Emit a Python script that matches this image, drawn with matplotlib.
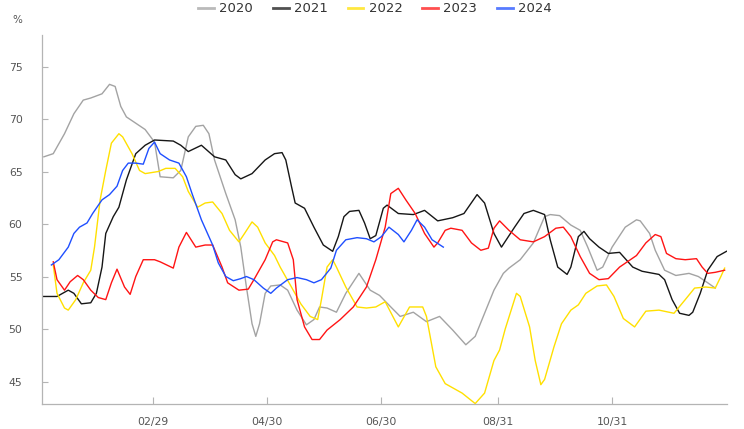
import matplotlib
matplotlib.use("Agg")
import matplotlib.pyplot as plt
import matplotlib.dates as mdates
import pandas as pd

# ---- data (day index: 0 = Jan 1, plotted on a common 2024 calendar) ----
days_2020 = [1, 6, 12, 17, 22, 26, 32, 36, 39, 42, 45, 50, 55, 60, 63, 70, 74, 78, 82, 86, 89, 92, 98, 103, 106,
             109, 112, 114, 116, 119, 122, 127, 131, 136, 141, 145, 148, 152, 157, 162, 169, 175, 180, 186, 191,
             198, 205, 212, 219, 226, 231, 236, 241, 246, 249, 255, 262, 268, 271, 276, 282, 287, 291, 296, 299,
             304, 311, 317, 319, 324, 327, 332, 338, 345, 350, 355, 359]
vals_2020 = [66.4, 66.7, 68.6, 70.5, 71.8, 72.0, 72.4, 73.3, 73.1, 71.2, 70.2, 69.6, 69.0, 67.8, 64.5, 64.4, 65.1,
             68.3, 69.3, 69.4, 68.6, 66.1, 62.9, 60.4, 57.8, 54.0, 50.5, 49.3, 50.5, 53.4, 54.1, 54.2, 53.7, 51.8,
             50.4, 50.9, 52.1, 52.0, 51.6, 53.4, 55.3, 53.7, 53.2, 52.1, 51.2, 51.6, 50.7, 51.2, 49.9, 48.5, 49.3,
             51.5, 53.7, 55.3, 55.8, 56.6, 58.2, 60.7, 60.9, 60.8, 59.9, 59.4, 57.8, 55.6, 55.9, 57.8, 59.7, 60.4,
             60.3, 59.1, 57.5, 55.6, 55.1, 55.3, 55.0, 54.4, 53.9]

days_2021 = [0, 8, 14, 17, 21, 26, 29, 32, 34, 38, 41, 45, 50, 55, 60, 70, 74, 78, 85, 92, 98, 103, 106, 112, 119,
             124, 128, 130, 133, 135, 140, 145, 150, 155, 158, 161, 164, 169, 172, 175, 178, 182, 184, 190, 198,
             204, 211, 219, 225, 232, 236, 241, 245, 252, 257, 262, 268, 271, 275, 280, 282, 286, 289, 292, 297,
             302, 308, 315, 320, 329, 332, 336, 340, 345, 347, 351, 355, 360, 365]
vals_2021 = [53.1, 53.1, 53.7, 53.4, 52.4, 52.5, 53.4, 55.9, 59.1, 60.7, 61.6, 64.2, 66.7, 67.5, 68.0, 67.9, 67.5,
             66.9, 67.5, 66.4, 66.1, 64.7, 64.3, 64.8, 66.1, 66.7, 66.8, 66.1, 63.6, 62.0, 61.5, 59.7, 58.0, 57.4,
             58.8, 60.7, 61.2, 61.3, 60.1, 58.6, 58.9, 61.5, 61.8, 61.0, 60.9, 61.3, 60.3, 60.6, 61.0, 62.8, 62.0,
             59.1, 57.8, 59.7, 61.0, 61.3, 60.9, 58.5, 55.9, 55.2, 55.9, 58.8, 59.3, 58.6, 57.8, 57.2, 57.3, 55.9,
             55.5, 55.2, 54.7, 52.8, 51.5, 51.3, 51.6, 53.4, 55.6, 56.9, 57.4]

days_2022 = [6, 8, 12, 14, 18, 22, 26, 28, 31, 34, 37, 41, 43, 48, 52, 55, 62, 66, 71, 75, 78, 83, 87, 91, 96, 100,
             105, 108, 112, 115, 119, 124, 127, 133, 138, 143, 147, 149, 152, 155, 157, 162, 168, 173, 178, 183,
             190, 196, 203, 205, 210, 215, 224, 231, 236, 241, 244, 247, 253, 255, 260, 263, 266, 268, 273, 277,
             282, 286, 290, 296, 301, 305, 310, 316, 322, 329, 337, 343, 348, 354, 359, 362, 364]
vals_2022 = [56.1, 53.4, 52.0, 51.8, 52.8, 54.4, 55.6, 57.8, 62.3, 65.1, 67.7, 68.6, 68.3, 66.7, 65.1, 64.8, 65.0,
             65.3, 65.3, 64.5, 63.1, 61.6, 62.0, 62.1, 61.0, 59.4, 58.3, 59.1, 60.2, 59.7, 58.2, 57.0, 55.9, 54.0,
             52.4, 51.2, 50.9, 52.8, 55.9, 56.6, 55.9, 54.0, 52.1, 52.0, 52.1, 52.6, 50.2, 52.1, 52.1, 51.2, 46.4,
             44.8, 43.9, 42.9, 43.9, 47.0, 48.0, 50.0, 53.4, 53.1, 50.2, 47.0, 44.7, 45.2, 48.3, 50.5, 51.8, 52.3,
             53.4, 54.1, 54.2, 53.1, 51.0, 50.2, 51.7, 51.8, 51.5, 52.8, 53.9, 54.0, 53.9, 55.0, 55.8]

days_2023 = [6, 8, 12, 15, 19, 22, 26, 30, 34, 37, 40, 44, 47, 50, 54, 60, 63, 70, 73, 77, 82, 87, 91, 96, 99, 105,
             110, 113, 119, 123, 125, 131, 134, 136, 140, 144, 148, 152, 159, 166, 173, 178, 183, 186, 190, 194,
             199, 204, 209, 211, 215, 218, 224, 229, 234, 238, 241, 244, 249, 255, 262, 268, 274, 278, 282, 287,
             292, 297, 302, 308, 317, 322, 327, 330, 333, 338, 343, 349, 352, 355, 359, 364]
vals_2023 = [56.4, 54.7, 53.7, 54.5, 55.1, 54.7, 53.7, 53.0, 52.8, 54.4, 55.7, 54.0, 53.3, 55.0, 56.6, 56.6, 56.4,
             55.8, 57.8, 59.2, 57.8, 58.0, 58.0, 55.9, 54.4, 53.7, 53.8, 54.7, 56.6, 58.3, 58.5, 58.2, 56.6, 52.8,
             50.2, 49.0, 49.0, 49.9, 50.9, 52.1, 54.0, 56.6, 59.7, 62.9, 63.4, 62.3, 61.0, 59.1, 57.8, 58.2, 59.4,
             59.6, 59.4, 58.2, 57.5, 57.7, 59.6, 60.3, 59.4, 58.5, 58.3, 58.8, 59.6, 59.7, 58.8, 56.9, 55.3, 54.7,
             54.8, 55.9, 57.0, 58.2, 59.0, 58.8, 57.2, 56.7, 56.6, 56.7, 55.9, 55.3, 55.4, 55.6]

days_2024 = [5, 9, 14, 17, 20, 24, 27, 32, 36, 40, 43, 46, 50, 54, 57, 60, 63, 68, 73, 77, 80, 85, 91, 94, 98, 102,
             106, 109, 113, 118, 122, 125, 131, 136, 141, 145, 149, 154, 157, 162, 168, 173, 177, 181, 185, 190,
             193, 197, 200, 204, 208, 214]
vals_2024 = [56.1, 56.6, 57.8, 59.1, 59.7, 60.1, 61.0, 62.3, 62.8, 63.6, 65.1, 65.8, 65.8, 65.7, 67.2, 67.8, 66.7,
             66.1, 65.8, 64.5, 62.9, 60.4, 58.0, 56.3, 55.0, 54.6, 54.8, 55.0, 54.7, 53.9, 53.4, 53.9, 54.7, 54.9,
             54.7, 54.4, 54.7, 55.8, 57.5, 58.5, 58.7, 58.6, 58.3, 58.8, 59.7, 59.0, 58.3, 59.4, 60.4, 59.7, 58.5,
             57.8]

series_names = ["2020", "2021", "2022", "2023", "2024"]
series_days = [days_2020, days_2021, days_2022, days_2023, days_2024]
series_vals = [vals_2020, vals_2021, vals_2022, vals_2023, vals_2024]
series_colors = ["#a3a3a3", "#161616", "#ffe000", "#ff1414", "#1f4fff"]

tick_labels = ["02/29", "04/30", "06/30", "08/31", "10/31"]
y_ticks = [45, 50, 55, 60, 65, 70, 75]

base = pd.Timestamp("2024-01-01")

fig = plt.figure(figsize=(7.44, 4.29), dpi=100)
ax = fig.add_axes([42 / 744, 25 / 429, (726.5 - 42) / 744, (404 - 35) / 429])

for name, d, v, c in zip(series_names, series_days, series_vals, series_colors):
    dates = base + pd.to_timedelta(d, unit="D")
    ax.plot(dates, v, color=c, lw=1.0, label=name, solid_joinstyle="round")

ax.set_xlim(base, pd.Timestamp("2024-12-31"))
ax.set_ylim(42.86, 78.0)

tick_dates = [pd.Timestamp("2024/" + t) for t in tick_labels]
ax.set_xticks(tick_dates)
ax.set_xticklabels(tick_labels)
ax.set_yticks(y_ticks)
ax.set_yticklabels([str(t) for t in y_ticks])

for s in ["top", "right"]:
    ax.spines[s].set_visible(False)
for s in ["left", "bottom"]:
    ax.spines[s].set_color("#b4b4b4")
    ax.spines[s].set_linewidth(0.9)

ax.tick_params(axis="both", direction="in", colors="#b4b4b4", labelcolor="#555555", labelsize=7.8)
ax.tick_params(axis="x", length=5, pad=9)
ax.tick_params(axis="y", length=4, pad=14)

fig.text(12 / 744, 1 - 20 / 429, "%", fontsize=7.5, color="#555555", ha="left", va="center")

leg = fig.legend(loc="center", bbox_to_anchor=(375 / 744, 1 - 9 / 429), ncol=5, frameon=False,
                 fontsize=9.5, handlelength=1.2, handletextpad=0.4, columnspacing=1.5,
                 labelcolor="#333333")
for h in leg.legend_handles:
    h.set_linewidth(2.0)
    h.set_alpha(0.75)

fig.savefig("out.png", dpi=100)
